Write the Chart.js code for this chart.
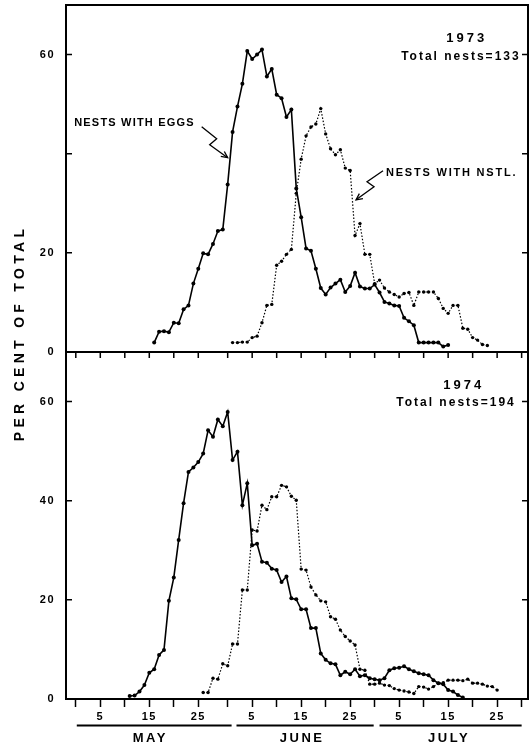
<!doctype html>
<html>
<head>
<meta charset="utf-8">
<title>Nests with eggs / nestlings 1973-1974</title>
<script src="https://cdn.jsdelivr.net/npm/chart.js@4.4.0/dist/chart.umd.min.js"></script>
<style>
  html, body { margin: 0; padding: 0; background: #fff; }
</style>
</head>
<body>
<canvas id="nests" width="530" height="745"></canvas>
<script>
  // x = day counted from April 30 (May 1 = 1, June 1 = 32, July 1 = 62)
  const eggs73Days = [16, 17, 18, 19, 20, 21, 22, 23, 24, 25, 26, 27, 28, 29, 30, 31, 32, 33, 34, 35, 36, 37, 38, 39, 40,
    41, 42, 43, 44, 45, 46, 47, 48, 49, 50, 51, 52, 53, 54, 55, 56, 57, 58, 59, 60, 61, 62, 63, 64, 65, 66, 67, 68, 69, 70,
    71, 72, 73, 74, 75, 76];
  const eggs73 = [1.9, 4.1, 4.2, 4.0, 5.9, 5.8, 8.6, 9.4, 13.8, 16.8, 19.9, 19.7, 21.8, 24.4, 24.7, 33.8, 44.4, 49.5, 54.1, 60.7,
    59.1, 60.0, 61.0, 55.6, 57.1, 51.9, 51.2, 47.4, 48.9, 33.0, 27.2, 20.9, 20.4, 16.8, 12.9, 11.6, 13.0, 13.8, 14.6, 12.1,
    13.3, 16.0, 13.2, 12.8, 12.8, 13.6, 12.0, 10.1, 9.8, 9.4, 9.3, 6.9, 6.2, 5.4, 1.9, 1.9, 1.9, 1.9, 1.9, 1.1, 1.4];

  const nstl73Days = [32, 33, 34, 35, 36, 37, 38, 39, 40, 41, 42, 43, 44, 45, 46, 47, 48, 49, 50, 51, 52, 53, 54, 55, 56,
    57, 58, 59, 60, 61, 62, 63, 64, 65, 66, 67, 68, 69, 70, 71, 72, 73, 74, 75, 76, 77, 78, 79, 80, 81, 82, 83, 84];
  const nstl73 = [1.9, 1.9, 2.0, 2.0, 2.9, 3.2, 5.9, 9.4, 9.6, 17.5, 18.3, 19.7, 20.7, 32.0, 38.9, 43.6, 45.4, 46.0, 49.1, 44.0,
    41.0, 39.8, 40.8, 37.1, 36.6, 23.5, 25.9, 19.7, 19.7, 13.8, 14.5, 12.9, 12.1, 11.6, 11.1, 11.8, 12.0, 9.4, 12.1, 12.1,
    12.1, 12.1, 10.8, 8.8, 7.8, 9.4, 9.4, 4.8, 4.6, 2.9, 2.4, 1.5, 1.3];

  const eggs74Days = [11, 12, 13, 14, 15, 16, 17, 18, 19, 20, 21, 22, 23, 24, 25, 26, 27, 28, 29, 30, 31, 32, 33, 34, 35,
    36, 37, 38, 39, 40, 41, 42, 43, 44, 45, 46, 47, 48, 49, 50, 51, 52, 53, 54, 55, 56, 57, 58, 59, 60, 61, 62, 63, 64, 65,
    66, 67, 68, 69, 70, 71, 72, 73, 74, 75, 76, 77, 78, 79];
  const eggs74 = [0.6, 0.7, 1.5, 2.8, 5.3, 6.0, 8.9, 9.9, 19.8, 24.5, 32.1, 39.5, 45.8, 46.7, 47.8, 49.5, 54.2, 52.9, 56.4, 55.0,
    57.9, 48.2, 49.9, 39.1, 43.5, 31.0, 31.3, 27.7, 27.5, 26.3, 26.0, 23.6, 24.7, 20.3, 20.1, 18.1, 18.1, 14.3, 14.3, 9.2,
    7.9, 7.2, 7.0, 4.8, 5.5, 5.0, 6.0, 4.6, 4.8, 4.2, 4.0, 3.8, 4.2, 5.8, 6.2, 6.3, 6.6, 6.0, 5.6, 5.2,
    5.0, 4.8, 3.8, 3.2, 3.0, 1.8, 1.5, 0.8, 0.3];

  const nstl74Days = [26, 27, 28, 29, 30, 31, 32, 33, 34, 35, 36, 37, 38, 39, 40, 41, 42, 43, 44, 45, 46, 47, 48, 49, 50,
    51, 52, 53, 54, 55, 56, 57, 58, 59, 60, 61, 62, 63, 64, 65, 66, 67, 68, 69, 70, 71, 72, 73, 74, 75, 76, 77, 78, 79, 80,
    81, 82, 83, 84, 85, 86];
  const nstl74 = [1.3, 1.3, 4.2, 4.0, 7.1, 6.7, 11.1, 11.1, 22.0, 22.0, 34.1, 33.9, 39.1, 38.2, 40.8, 40.8, 43.1, 42.8, 40.9, 40.1,
    26.2, 26.0, 22.6, 21.0, 19.8, 19.6, 16.6, 16.1, 13.9, 12.6, 11.7, 10.9, 6.0, 5.8, 3.0, 3.0, 3.2, 2.8, 2.7, 2.1,
    1.8, 1.6, 1.4, 1.1, 2.5, 2.4, 2.0, 2.5, 3.2, 3.3, 3.8, 3.8, 3.8, 3.7, 4.0, 3.2, 3.2, 3.0, 2.6, 2.5, 1.8];

  // axis ticks (days) and their labels
  const tickDays = [0, 5, 10, 15, 20, 25, 31, 36, 41, 46, 51, 56, 61, 66, 71, 76, 81, 86, 91];
  const tickLabels = ['', '5', '', '15', '', '25', '', '5', '', '15', '', '25', '', '5', '', '15', '', '25', ''];
  const yTicks = [0, 20, 40, 60];
  const yLabels73 = ['0', '20', '', '60'];   // the 40 is not legible on the 1973 panel
  const yLabels74 = ['0', '20', '40', '60'];
  const months = ['MAY', 'JUNE', 'JULY'];
  const monthMid = [15, 46, 76];
  const monthSpan = [[0.2, 31.8], [32.8, 60.8], [62, 91]];

  const pairs = (days, vals) => days.map((d, i) => ({ x: d, y: vals[i] }));

  const FONT = "'Liberation Sans', Arial, sans-serif";
  Chart.defaults.font.family = FONT;
  Chart.defaults.color = '#000';

  const solid = {
    borderColor: '#000', borderWidth: 1.6, pointRadius: 2, pointBackgroundColor: '#000',
    pointBorderWidth: 0, pointHoverRadius: 2
  };
  const dotted = {
    borderColor: '#000', borderWidth: 1.2, borderDash: [1.5, 1.8], pointRadius: 1.7,
    pointBackgroundColor: '#000', pointBorderWidth: 0, pointHoverRadius: 1.7
  };

  function yScale(labels) {
    return {
      type: 'linear', position: 'left', stack: 'panels', min: 0, max: 70,
      afterBuildTicks: ax => { ax.ticks = yTicks.map(v => ({ value: v })); },
      afterFit: ax => { ax.width = 66; ax.paddingTop = 0; ax.paddingBottom = 0; },
      grid: { display: false },
      border: { display: false },
      ticks: { padding: 3, font: { size: 11, weight: 'bold' }, callback: (v, i) => labels[i] }
    };
  }

  function text(ctx, str, x, y, align, size, spacing) {
    ctx.font = 'bold ' + size + 'px ' + FONT;
    ctx.letterSpacing = spacing + 'px';
    ctx.textAlign = align;
    ctx.textBaseline = 'middle';
    ctx.fillText(str, x, y);
  }

  function squiggle(ctx, tipX, tipY, pts) {
    ctx.beginPath();
    ctx.moveTo(tipX + pts[0][0], tipY + pts[0][1]);
    pts.slice(1).forEach(p => ctx.lineTo(tipX + p[0], tipY + p[1]));
    ctx.lineTo(tipX, tipY);
    ctx.stroke();
    const last = pts[pts.length - 1];
    const ang = Math.atan2(-last[1], -last[0]);
    ctx.beginPath();
    ctx.moveTo(tipX - 7 * Math.cos(ang - 0.45), tipY - 7 * Math.sin(ang - 0.45));
    ctx.lineTo(tipX, tipY);
    ctx.lineTo(tipX - 7 * Math.cos(ang + 0.45), tipY - 7 * Math.sin(ang + 0.45));
    ctx.stroke();
  }

  const decor = {
    id: 'decor',
    beforeDraw(chart) {
      chart.ctx.letterSpacing = '1.5px';
    },
    afterDraw(chart) {
      const { ctx, chartArea: a, scales } = chart;
      const x = scales.x, y73 = scales.y73, y74 = scales.y74;
      ctx.save();
      ctx.strokeStyle = '#000';
      ctx.fillStyle = '#000';
      ctx.lineWidth = 2;
      ctx.strokeRect(a.left, a.top, a.right - a.left, a.bottom - a.top);
      const mid = y74.top;
      ctx.beginPath();
      ctx.moveTo(a.left, mid);
      ctx.lineTo(a.right, mid);
      ctx.stroke();

      ctx.lineWidth = 1.5;
      ctx.beginPath();
      tickDays.forEach(d => {
        const px = x.getPixelForValue(d);
        ctx.moveTo(px, mid);
        ctx.lineTo(px, mid + 6);
      });
      [y73, y74].forEach(s => {
        yTicks.slice(1).forEach(v => {
          const py = s.getPixelForValue(v);
          ctx.moveTo(a.left, py);
          ctx.lineTo(a.left + 6, py);
          ctx.moveTo(a.right, py);
          ctx.lineTo(a.right - 6, py);
        });
      });
      ctx.stroke();

      // month bars and names
      ctx.lineWidth = 2;
      ctx.beginPath();
      monthSpan.forEach(s => {
        ctx.moveTo(x.getPixelForValue(s[0]), x.top + 26.5);
        ctx.lineTo(x.getPixelForValue(s[1]), x.top + 26.5);
      });
      ctx.stroke();
      months.forEach((m, i) => text(ctx, m, x.getPixelForValue(monthMid[i]) + 1, x.top + 39, 'center', 13, 2.5));

      // axis title
      ctx.save();
      ctx.translate(20, 333);
      ctx.rotate(-Math.PI / 2);
      text(ctx, 'PER CENT OF TOTAL', 0, 0, 'center', 14, 4.3);
      ctx.restore();

      // panel captions
      text(ctx, '1973', x.getPixelForValue(79.8), y73.getPixelForValue(63.2), 'center', 13, 3);
      text(ctx, 'Total nests=133', x.getPixelForValue(90.8), y73.getPixelForValue(59.5), 'right', 12, 2);
      text(ctx, '1974', x.getPixelForValue(79.2), y74.getPixelForValue(63.3), 'center', 13, 3);
      text(ctx, 'Total nests=194', x.getPixelForValue(89.8), y74.getPixelForValue(59.7), 'right', 12, 2);

      // series labels with arrows
      text(ctx, 'NESTS WITH EGGS', x.getPixelForValue(24.3), y73.getPixelForValue(46.2), 'right', 11, 1.2);
      text(ctx, 'NESTS WITH NSTL.', x.getPixelForValue(63.3), y73.getPixelForValue(36.2), 'left', 11, 1.8);
      ctx.lineWidth = 1.3;
      squiggle(ctx, x.getPixelForValue(31.0), y73.getPixelForValue(39.2), [[-26, -31], [-11, -19], [-18, -13]]);
      squiggle(ctx, x.getPixelForValue(57.2), y73.getPixelForValue(30.7), [[27, -29], [11, -18], [18, -13]]);
      ctx.restore();
    }
  };

  new Chart(document.getElementById('nests'), {
    type: 'line',
    data: {
      datasets: [
        Object.assign({ label: 'Nests with eggs 1973', data: pairs(eggs73Days, eggs73), yAxisID: 'y73' }, solid),
        Object.assign({ label: 'Nests with nestlings 1973', data: pairs(nstl73Days, nstl73), yAxisID: 'y73' }, dotted),
        Object.assign({ label: 'Nests with eggs 1974', data: pairs(eggs74Days, eggs74), yAxisID: 'y74' }, solid),
        Object.assign({ label: 'Nests with nestlings 1974', data: pairs(nstl74Days, nstl74), yAxisID: 'y74' }, dotted)
      ]
    },
    options: {
      responsive: false,
      animation: false,
      devicePixelRatio: 1,
      layout: { padding: { top: 5, right: 2, left: 0, bottom: 0 } },
      plugins: { legend: { display: false }, tooltip: { enabled: false } },
      scales: {
        x: {
          type: 'linear', position: 'bottom', min: -2, max: 92.3,
          afterBuildTicks: ax => { ax.ticks = tickDays.map(v => ({ value: v })); },
          afterFit: ax => { ax.height = 46; },
          grid: { drawOnChartArea: false, drawTicks: true, tickLength: 8, color: '#000', tickWidth: 1.5 },
          border: { display: false },
          ticks: {
            autoSkip: false, maxRotation: 0, padding: 3, font: { size: 11, weight: 'bold' },
            callback: (v, i) => tickLabels[i]
          }
        },
        y74: yScale(yLabels74),
        y73: yScale(yLabels73)
      }
    },
    plugins: [decor]
  });
</script>
</body>
</html>
